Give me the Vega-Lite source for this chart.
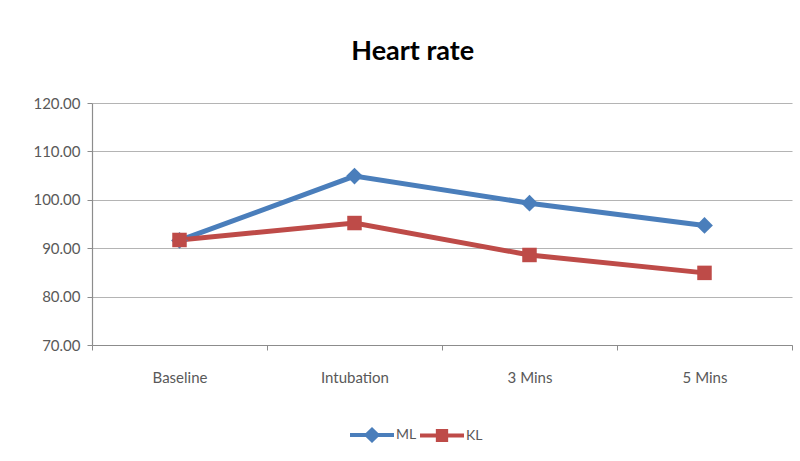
{
  "$schema": "https://vega.github.io/schema/vega-lite/v6.json",
  "width": 700,
  "height": 242,
  "autosize": {"type": "none"},
  "padding": {"left": 92, "top": 103, "right": 8, "bottom": 116},
  "background": "white",
  "title": {"text": "Heart rate", "font": "Lato", "fontSize": 27, "fontWeight": "bold", "color": "#000000", "anchor": "middle", "frame": "bounds", "offset": 30},
  "config": {"view": {"stroke": null}},
  "data": {
    "values": [
      {"time": "Baseline", "group": "ML", "hr": 91.6},
      {"time": "Intubation", "group": "ML", "hr": 104.9},
      {"time": "3 Mins", "group": "ML", "hr": 99.3},
      {"time": "5 Mins", "group": "ML", "hr": 94.7},
      {"time": "Baseline", "group": "KL", "hr": 91.7},
      {"time": "Intubation", "group": "KL", "hr": 95.2},
      {"time": "3 Mins", "group": "KL", "hr": 88.6},
      {"time": "5 Mins", "group": "KL", "hr": 84.9}
    ]
  },
  "encoding": {
    "x": {
      "field": "time", "type": "nominal", "sort": ["Baseline", "Intubation", "3 Mins", "5 Mins"],
      "scale": {"paddingInner": 0, "paddingOuter": 0},
      "axis": {"title": null, "labelAngle": 0, "tickBand": "extent", "tickSize": 5, "tickColor": "#8c8c8c", "domainColor": "#8c8c8c", "domainWidth": 1.2, "labelFont": "Lato", "labelFontSize": 15, "labelColor": "#595959", "labelPadding": 20, "grid": false}
    },
    "y": {
      "field": "hr", "type": "quantitative", "scale": {"domain": [70, 120], "nice": false, "zero": false},
      "axis": {"title": null, "values": [70, 80, 90, 100, 110, 120], "format": ".2f", "tickSize": 5, "tickColor": "#8c8c8c", "domainColor": "#8c8c8c", "domainWidth": 1.2, "gridColor": "#b4b4b4", "gridWidth": 1.2, "labelFont": "Lato", "labelFontSize": 15, "labelColor": "#595959", "labelPadding": 7}
    },
    "color": {
      "field": "group", "type": "nominal", "sort": ["ML", "KL"],
      "scale": {"domain": ["ML", "KL"], "range": ["#4A7EBB", "#BE4B48"]},
      "legend": {
        "title": null, "orient": "none", "legendX": 258, "legendY": 310, "direction": "horizontal",
        "symbolSize": 1936, "labelFont": "Lato", "labelFontSize": 14, "labelColor": "#595959", "labelOffset": 2, "columnPadding": 3,
        "encode": {
          "symbols": {
            "update": {
              "shape": {"signal": "datum.value === 'ML' ? 'M-1,-0.09H-0.28L0,-0.36L0.28,-0.09H1V0.09H0.28L0,0.36L-0.28,0.09H-1Z' : 'M-1,-0.09H-0.28V-0.3H0.28V-0.09H1V0.09H0.28V0.3H-0.28V0.09H-1Z'"},
              "size": {"value": 1936},
              "fill": {"scale": "color", "field": "value"},
              "stroke": {"scale": "color", "field": "value"},
              "strokeWidth": {"value": 0},
              "opacity": {"value": 1},
              "fillOpacity": {"value": 1}
            }
          }
        }
      }
    }
  },
  "layer": [
    {"mark": {"type": "line", "strokeWidth": 5}},
    {
      "transform": [{"filter": "datum.group === 'ML'"}],
      "mark": {"type": "point", "shape": "diamond", "size": 280, "filled": true, "opacity": 1}
    },
    {
      "transform": [{"filter": "datum.group === 'KL'"}],
      "mark": {"type": "point", "shape": "square", "size": 210, "filled": true, "opacity": 1}
    }
  ]
}
